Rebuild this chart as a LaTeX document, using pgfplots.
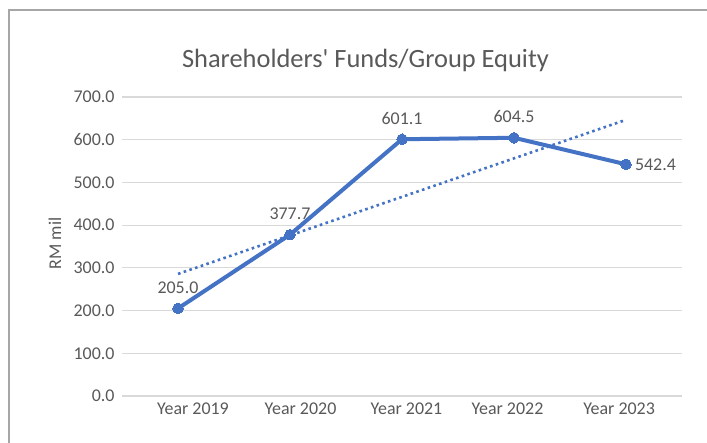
\documentclass[border=0pt]{standalone}
\usepackage{fontspec}
\setmainfont{Carlito}
\newfontfamily\plainfont{Carlito}
\usepackage{pgfplots}
\pgfplotsset{compat=1.18}
\definecolor{lineblue}{HTML}{4472C4}
\definecolor{txt}{HTML}{595959}
\definecolor{gridc}{HTML}{D9D9D9}
\definecolor{framec}{HTML}{A6A6A6}

\begin{document}
\begin{tikzpicture}[x=1bp,y=1bp]
  \useasboundingbox (0,0) rectangle (707,443);
  \fill[white] (0,0) rectangle (707,443);
  \draw[framec, line width=2.5bp] (9,0) -- (9,433) -- (707,433);
  \begin{axis}[
    at={(122bp,47bp)}, anchor=south west,
    scale only axis, width=560bp, height=299bp,
    xmin=-0.5, xmax=4.5, ymin=0, ymax=700,
    % category labels sit where the reference prints them
    xtick={0.134,1.094,2.040,2.942,3.938},
    xticklabels={Year 2019,Year 2020,Year 2021,Year 2022,Year 2023},
    ytick={0,100,...,700},
    yticklabel={\pgfmathprintnumber[fixed,fixed zerofill,precision=1]{\tick}},
    /pgf/number format/assume math mode=true,
    axis line style={draw=none},
    major tick length=0pt,
    ymajorgrids=true,
    grid style={draw=gridc, line width=1.2bp},
    ticklabel style={font=\fontsize{18}{21}\selectfont, text=txt},
    yticklabel style={xshift=-4bp},
    xticklabel style={yshift=-3bp},
    ylabel={RM mil},
    ylabel style={at={(axis description cs:-0.12,0.51)}, anchor=center,
      font=\fontsize{18}{21}\selectfont, text=txt},
    clip=false,
  ]
    % equity, RM mil
    \addplot[lineblue, line width=4bp, mark=*,
      mark options={fill=lineblue, draw=lineblue, line width=0pt},
      mark size=5.3bp,
      point meta=y,
      nodes near coords={\pgfmathprintnumber[fixed,fixed zerofill,precision=1,assume math mode=true]{\pgfplotspointmeta}},
      every node near coord/.append style={inner sep=0pt,
        font=\fontsize{18}{21}\selectfont, text=txt},
      coordinate style/.condition={x<3.5}{anchor=south, yshift=15bp},
      coordinate style/.condition={x>3.5}{anchor=west, xshift=9bp},
    ] coordinates {(0,205.0) (1,377.7) (2,601.1) (3,604.5) (4,542.4)};
    % linear trendline, end values
    \addplot[lineblue, line width=2.6bp, dash pattern=on 2.6bp off 3.4bp]
      coordinates {(0,285.8) (4,646.5)};
  \end{axis}
  \node[font=\plainfont\fontsize{26.5}{31}\selectfont, text=txt] at (365.5,383) {Shareholders' Funds/Group Equity};
\end{tikzpicture}
\end{document}
